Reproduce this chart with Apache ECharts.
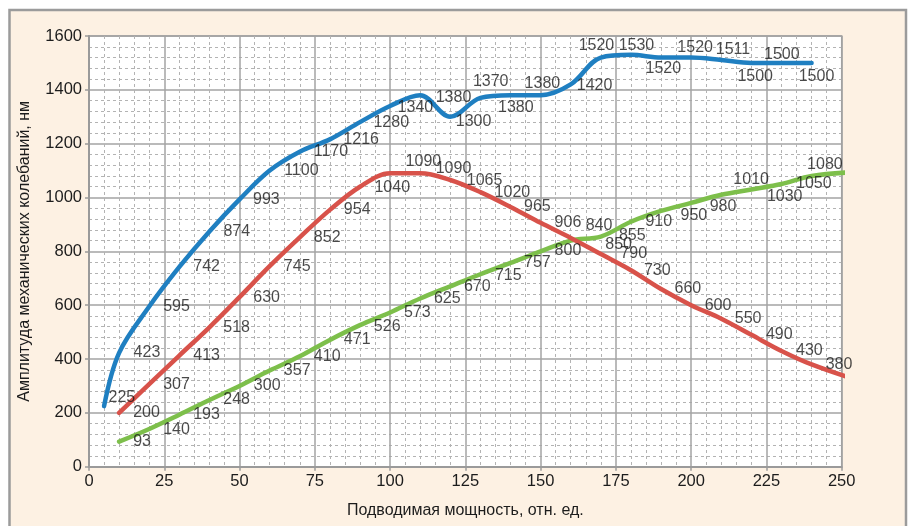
<!DOCTYPE html>
<html>
<head>
<meta charset="utf-8">
<script src="https://cdn.jsdelivr.net/npm/echarts@6/dist/echarts.min.js"></script>
<style>
html,body{margin:0;padding:0;background:#fff;}
#c{width:916px;height:526px;}
</style>
</head>
<body>
<div id="c"></div>
<script>
// ---- data ----
var xTicks = [0, 25, 50, 75, 100, 125, 150, 175, 200, 225, 250];
var yTicks = [0, 200, 400, 600, 800, 1000, 1200, 1400, 1600];

var blueX = [5, 10, 20, 30, 40, 50, 60, 70, 80, 90, 100, 110, 120, 130, 140, 150, 160, 170, 180, 190, 200, 210, 220, 230, 240];
var blueY = [225, 423, 595, 742, 874, 993, 1100, 1170, 1216, 1280, 1340, 1380, 1300, 1370, 1380, 1380, 1420, 1520, 1530, 1520, 1520, 1511, 1500, 1500, 1500];

var redX = [10, 20, 30, 40, 50, 60, 70, 80, 90, 100, 110, 120, 130, 140, 150, 160, 170, 180, 190, 200, 210, 220, 230, 240];
var redY = [200, 307, 413, 518, 630, 745, 852, 954, 1040, 1090, 1090, 1065, 1020, 965, 906, 850, 790, 730, 660, 600, 550, 490, 430, 380];
var redTailX = [255];
var redTailY = [322];

var greenX = [10, 20, 30, 40, 50, 60, 70, 80, 90, 100, 110, 120, 130, 140, 150, 160, 170, 180, 190, 200, 210, 220, 230, 240];
var greenY = [93, 140, 193, 248, 300, 357, 410, 471, 526, 573, 625, 670, 715, 757, 800, 840, 855, 910, 950, 980, 1010, 1030, 1050, 1080];
var greenTailX = [255];
var greenTailY = [1095];

var xTitle = 'Подводимая мощность, отн. ед.';
var yTitle = 'Амплитуда механических колебаний, нм';

// ---- label placement (style, pixel offsets) ----
var blueLblDx = [4, 14, 13.5, 13.5, 13.5, 13, 14, 13.5, 13, 13, 7, 15, 5, -8, -13, -16.5, 5.5, -22.7, -12.8, -16, -14.3, -6, -14.5, -18, -13.4];
var blueLblDy = [-9, 0, 0, 0, 0, 0, 0, 0, 0, 0, 2, 2, 5, -16, 12, -12, 1, -11.5, -9.5, 11, -10, -10, 14, -8, 13.4];
var redLblDx = [13.6, 13.5, 13.5, 13.3, 13.2, 13.7, 13.6, 13.5, 14, 15, 15, 16, 13.7, 13, 13.5, 34, 19, 12.5, 13, 13, 13, 14, 14, 13.6];
var redLblDy = [0, 1, 0, 0, 0, 0, 0, 0, 1, -12, -5, 1, 0, 0, 0, 7, 0, 0, 0, 0, 0, 0, 0, 0];
var greenLblDx = [13.6, 13.5, 13.4, 13.3, 13.8, 13.7, 13.6, 13.5, 13.4, 13.3, 13.2, 13.1, 14, 13, 13.5, 14.4, 17.6, 14, 19, 18, 11.6, 15, 14, -5];
var greenLblDy = [0, 1, 0, 0, 0, 0, 0, 0, 1, 0, 0, 0, 1, 0, -1, -15, -1, 0, 5, 4, -15, 7.5, 0, -11];

var FONT = '"Liberation Sans", Arial, sans-serif';
var TXT = '#1c1c1c';
var BLUE = '#1f7fc1', RED = '#d8524a', GREEN = '#7dbf4b';

function pts(xs, ys) { return xs.map(function (x, i) { return [x, ys[i]]; }); }
function lbls(xs, ys, dx, dy) {
  return xs.map(function (x, i) {
    return { value: [x, ys[i]], label: { offset: [dx[i], dy[i]] } };
  });
}
function lineSeries(name, data, color) {
  return {
    name: name, type: 'line', data: data, smooth: 0.35, clip: false,
    symbol: 'none', lineStyle: { width: 4.5, color: color, cap: 'round' }, z: 3
  };
}
function labelSeries(data) {
  return {
    type: 'scatter', data: data, symbolSize: 1, clip: false, z: 5,
    itemStyle: { color: 'rgba(0,0,0,0)' },
    label: {
      show: true, position: 'right', distance: 0, color: TXT,
      fontFamily: FONT, fontSize: 16,
      formatter: function (p) { return String(p.value[1]); }
    }
  };
}
function plain(v) { return String(v); }

var chart = echarts.init(document.getElementById('c'));
chart.setOption({
  animation: false,
  backgroundColor: '#ffffff',
  graphic: [{
    type: 'rect', z: -100, silent: true,
    shape: { x: 9.5, y: 10, width: 896.5, height: 530 },
    style: { fill: '#fdf1e3', stroke: '#9b9b9b', lineWidth: 2.5 }
  }],
  grid: {
    left: 89, right: 74.3, top: 36, bottom: 59.3,
    show: true, backgroundColor: '#ffffff', borderColor: '#9a9a9a', borderWidth: 1.5
  },
  xAxis: {
    type: 'value', min: xTicks[0], max: xTicks[xTicks.length - 1], interval: 25,
    name: xTitle, nameLocation: 'middle', nameGap: 36,
    nameTextStyle: { fontFamily: FONT, fontSize: 16, color: TXT, verticalAlign: 'top' },
    axisLine: { show: true, lineStyle: { color: '#9a9a9a', width: 2 } },
    axisTick: { show: true, length: 4, lineStyle: { color: '#9a9a9a', width: 1.5 } },
    axisLabel: { fontFamily: FONT, fontSize: 16.5, color: TXT, margin: 6, formatter: plain },
    splitLine: { show: true, lineStyle: { color: '#a3a3a3', width: 1.5 } },
    minorTick: { show: false, splitNumber: 5 },
    minorSplitLine: { show: true, lineStyle: { color: '#b3b3b3', width: 1, type: [3, 3] } }
  },
  yAxis: {
    type: 'value', min: yTicks[0], max: yTicks[yTicks.length - 1], interval: 200,
    name: yTitle, nameLocation: 'middle', nameGap: 56,
    nameTextStyle: { fontFamily: FONT, fontSize: 16, color: TXT },
    axisLine: { show: true, lineStyle: { color: '#9a9a9a', width: 2 } },
    axisTick: { show: true, length: 4, lineStyle: { color: '#9a9a9a', width: 1.5 } },
    axisLabel: { fontFamily: FONT, fontSize: 16.5, color: TXT, margin: 7, formatter: plain },
    splitLine: { show: true, lineStyle: { color: '#a3a3a3', width: 1.5 } },
    minorTick: { show: false, splitNumber: 5 },
    minorSplitLine: { show: true, lineStyle: { color: '#b3b3b3', width: 1, type: [3, 3] } }
  },
  series: [
    lineSeries('green', pts(greenX.concat(greenTailX), greenY.concat(greenTailY)), GREEN),
    lineSeries('red', pts(redX.concat(redTailX), redY.concat(redTailY)), RED),
    lineSeries('blue', pts(blueX, blueY), BLUE),
    labelSeries(lbls(blueX, blueY, blueLblDx, blueLblDy)),
    labelSeries(lbls(redX, redY, redLblDx, redLblDy)),
    labelSeries(lbls(greenX, greenY, greenLblDx, greenLblDy))
  ]
});
</script>
</body>
</html>
